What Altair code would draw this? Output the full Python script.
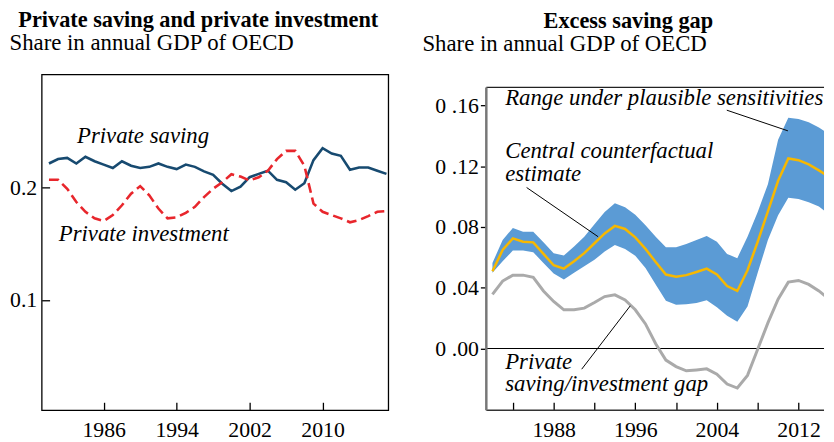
import altair as alt
import pandas as pd

FONT = "Liberation Serif"

# ---------------- Left panel data ----------------
years_left = list(range(1980, 2018))
private_saving = [0.221, 0.225, 0.226, 0.221, 0.227, 0.223, 0.220, 0.217, 0.223, 0.219,
                  0.217, 0.218, 0.221, 0.218, 0.216, 0.220, 0.218, 0.214, 0.211, 0.203,
                  0.1965, 0.2005, 0.2088, 0.2118, 0.2146, 0.2065, 0.2044, 0.1977, 0.2035, 0.2240,
                  0.2346, 0.2298, 0.2278, 0.2155, 0.2175, 0.2175, 0.2146, 0.2118]
private_investment = [0.2065, 0.2065, 0.1986, 0.1868, 0.1781, 0.1723, 0.1699, 0.1752, 0.1839, 0.1942,
                      0.2009, 0.1927, 0.1810, 0.1723, 0.1732, 0.1772, 0.1825, 0.1912, 0.1986, 0.2044,
                      0.2115, 0.2094, 0.2059, 0.2088, 0.2146, 0.2249, 0.2322, 0.2322, 0.2190, 0.1854,
                      0.1781, 0.1752, 0.1723, 0.1688, 0.1708, 0.1743, 0.1781, 0.1787]

left_labels = ["Private saving", "Private investment"]
left_label_year = [1983.07, 1981.07]
left_label_value = [0.2395, 0.1518]

# ---------------- Right panel data ----------------
years_right = list(range(1982, 2016))
central = [0.0509, 0.0649, 0.0725, 0.0703, 0.0699, 0.0623, 0.0548, 0.0526, 0.0574, 0.0628,
           0.0693, 0.0758, 0.0807, 0.0787, 0.0732, 0.0656, 0.0569, 0.0487, 0.0472, 0.0483,
           0.0504, 0.0526, 0.0487, 0.0411, 0.0379, 0.0515, 0.0703, 0.0903, 0.1104, 0.1251,
           0.1240, 0.1212, 0.1173, 0.1130]
upper = [0.0563, 0.0714, 0.0794, 0.0768, 0.0768, 0.0700, 0.0628, 0.0612, 0.0671, 0.0736,
         0.0818, 0.0898, 0.0957, 0.0930, 0.0881, 0.0812, 0.0736, 0.0667, 0.0667, 0.0688,
         0.0714, 0.0740, 0.0703, 0.0623, 0.0595, 0.0736, 0.0898, 0.1082, 0.1374, 0.1519,
         0.1511, 0.1489, 0.1455, 0.1411]
lower = [0.0498, 0.0574, 0.0645, 0.0645, 0.0634, 0.0563, 0.0494, 0.0455, 0.0498, 0.0541,
         0.0584, 0.0638, 0.0682, 0.0655, 0.0610, 0.0530, 0.0422, 0.0314, 0.0288, 0.0292,
         0.0299, 0.0318, 0.0271, 0.0216, 0.0177, 0.0277, 0.0498, 0.0714, 0.0877, 0.0992,
         0.0985, 0.0963, 0.0935, 0.0883]
gap = [0.0357, 0.0444, 0.0483, 0.0483, 0.0469, 0.0379, 0.0310, 0.0255, 0.0255, 0.0266,
       0.0303, 0.0342, 0.0353, 0.0320, 0.0255, 0.0162, 0.0032, -0.0076, -0.0119, -0.0147,
       -0.0141, -0.0134, -0.0169, -0.0234, -0.0260, -0.0177, -0.0005, 0.0169, 0.0325, 0.0437,
       0.0448, 0.0422, 0.0379, 0.0325]

right_labels = ["Range under plausible sensitivities", "Central counterfactual\nestimate",
                "Private\nsaving/investment gap"]
right_label_year = [1983.25, 1983.25, 1983.25]
right_label_value = [0.1602, 0.1251, -0.0134]

leader_year1 = [2004.97, 1985.35, 1990.75]
leader_value1 = [0.1569, 0.1060, -0.0136]
leader_year2 = [2010.96, 1992.36, 1995.51]
leader_value2 = [0.1433, 0.0736, 0.0281]

# frame of the right panel (value range of its axis line)
right_frame_year = [1981.4]
right_frame_bottom = [-0.0406]
right_frame_top = [0.1719]

SUBTITLE = "Share in annual GDP of OECD"

# ---------------- Left panel ----------------
xl = alt.X("year:Q",
           scale=alt.Scale(domain=[1979.2, 2017.2], nice=False, zero=False),
           axis=alt.Axis(values=[1986, 1994, 2002, 2010], format="d", title=None, grid=False,
                         domain=False, offset=-8, tickSize=8, labelPadding=10))
yl = alt.Y("value:Q",
           scale=alt.Scale(domain=[0.002, 0.3], nice=False, zero=False),
           axis=alt.Axis(values=[0.1, 0.2], format=".1f", grid=False, domain=False,
                         offset=-8, tickSize=8, labelPadding=5,
                         title=SUBTITLE, titleAngle=0, titleAlign="left",
                         titleBaseline="alphabetic", titleX=-41, titleY=-25,
                         titleFontSize=23, titleFontWeight="normal"))

saving_df = pd.DataFrame({"year": years_left, "value": private_saving})
invest_df = pd.DataFrame({"year": years_left, "value": private_investment})
left_text = pd.DataFrame({"year": left_label_year, "value": left_label_value, "label": left_labels})

saving_layer = alt.Chart(saving_df).mark_line(color="#174A70", strokeWidth=2.6).encode(x=xl, y=yl)
invest_layer = alt.Chart(invest_df).mark_line(color="#E8262C", strokeWidth=2.6,
                                              strokeDash=[10, 5]).encode(x=xl, y=yl)
left_text_layer = alt.Chart(left_text).mark_text(
    align="left", baseline="alphabetic", fontStyle="italic", fontSize=23, font=FONT, color="black"
).encode(x=xl, y=yl, text="label:N")

left = alt.layer(saving_layer, invest_layer, left_text_layer).properties(
    width=350, height=339,
    title=alt.Title("Private saving and private investment", anchor="middle", frame="bounds",
                    fontSize=22.5, fontWeight="bold", font=FONT, offset=0, dx=-2),
)

# ---------------- Right panel ----------------
xr = alt.X("year:Q",
           scale=alt.Scale(domain=[1981.4, 2014.5], nice=False, zero=False),
           axis=alt.Axis(values=[1984, 1988, 1992, 1996, 2000, 2004, 2008, 2012],
                         labelExpr="datum.value % 8 == 4 ? format(datum.value, 'd') : ''",
                         title=None, grid=False, domain=False, offset=-8, tickSize=8, labelPadding=10))
yr = alt.Y("value:Q",
           scale=alt.Scale(domain=[-0.0406, 0.1804], nice=False, zero=False),
           axis=alt.Axis(values=[0, 0.04, 0.08, 0.12, 0.16],
                         labelExpr="replace(format(datum.value, '.2f'), '0.', '0 .')",
                         grid=False, domain=False,
                         tickSize=6, labelPadding=2,
                         title=SUBTITLE, titleAngle=0, titleAlign="left",
                         titleBaseline="alphabetic", titleX=-65, titleY=-24,
                         titleFontSize=23, titleFontWeight="normal"))

band_df = pd.DataFrame({"year": years_right, "value": lower, "value2": upper})
central_df = pd.DataFrame({"year": years_right, "value": central})
gap_df = pd.DataFrame({"year": years_right, "value": gap})
zero_df = pd.DataFrame({"value": [0.0]})
top_df = pd.DataFrame({"value": right_frame_top})
bottom_df = pd.DataFrame({"value": right_frame_bottom})
left_edge_df = pd.DataFrame({"year": right_frame_year, "value": right_frame_bottom,
                             "value2": right_frame_top})
leader_df = pd.DataFrame({"year": leader_year1, "value": leader_value1,
                          "year2": leader_year2, "value2": leader_value2})
right_text = pd.DataFrame({"year": right_label_year, "value": right_label_value, "label": right_labels})

band_layer = alt.Chart(band_df).mark_area(color="#5B9BD5", opacity=1, clip=True).encode(
    x=xr, y=yr, y2="value2:Q")
zero_layer = alt.Chart(zero_df).mark_rule(color="black", strokeWidth=1.2).encode(y=yr)
top_layer = alt.Chart(top_df).mark_rule(color="#222222", strokeWidth=1.4).encode(y=yr)
bottom_layer = alt.Chart(bottom_df).mark_rule(color="#333333", strokeWidth=1.6).encode(y=yr)
gap_layer = alt.Chart(gap_df).mark_line(color="#AAAAAA", strokeWidth=3, clip=True).encode(x=xr, y=yr)
central_layer = alt.Chart(central_df).mark_line(color="#F7B800", strokeWidth=2.5, clip=True).encode(
    x=xr, y=yr)
edge_layer = alt.Chart(left_edge_df).mark_rule(color="#777777", strokeWidth=2.5).encode(
    x=xr, y=yr, y2="value2:Q")
leader_layer = alt.Chart(leader_df).mark_rule(color="black", strokeWidth=1).encode(
    x=xr, y=yr, x2="year2:Q", y2="value2:Q")
right_text_layer = alt.Chart(right_text).mark_text(
    align="left", baseline="alphabetic", fontStyle="italic", fontSize=23, font=FONT, color="black",
    lineBreak="\n", lineHeight=22.7
).encode(x=xr, y=yr, text="label:N")

right = alt.layer(band_layer, zero_layer, top_layer, bottom_layer, gap_layer, central_layer,
                  edge_layer, leader_layer, right_text_layer).properties(
    width=341, height=339,
    view=alt.ViewBackground(stroke="transparent"),
    title=alt.Title("Excess saving gap", anchor="middle", frame="bounds",
                    fontSize=22.5, fontWeight="bold", font=FONT, offset=0, dx=5),
)

chart = alt.hconcat(left, right, spacing=28).properties(
    padding={"left": 0, "top": -2, "right": 0, "bottom": 0}
).configure(font=FONT).configure_view(
    stroke="black", strokeWidth=1.3
).configure_axis(
    labelFont=FONT, labelFontSize=22, labelColor="black", tickColor="black", tickWidth=1.3,
    titleFont=FONT, titleColor="black"
)

chart.save("out.html", embed_options={"renderer": "svg", "actions": False})
